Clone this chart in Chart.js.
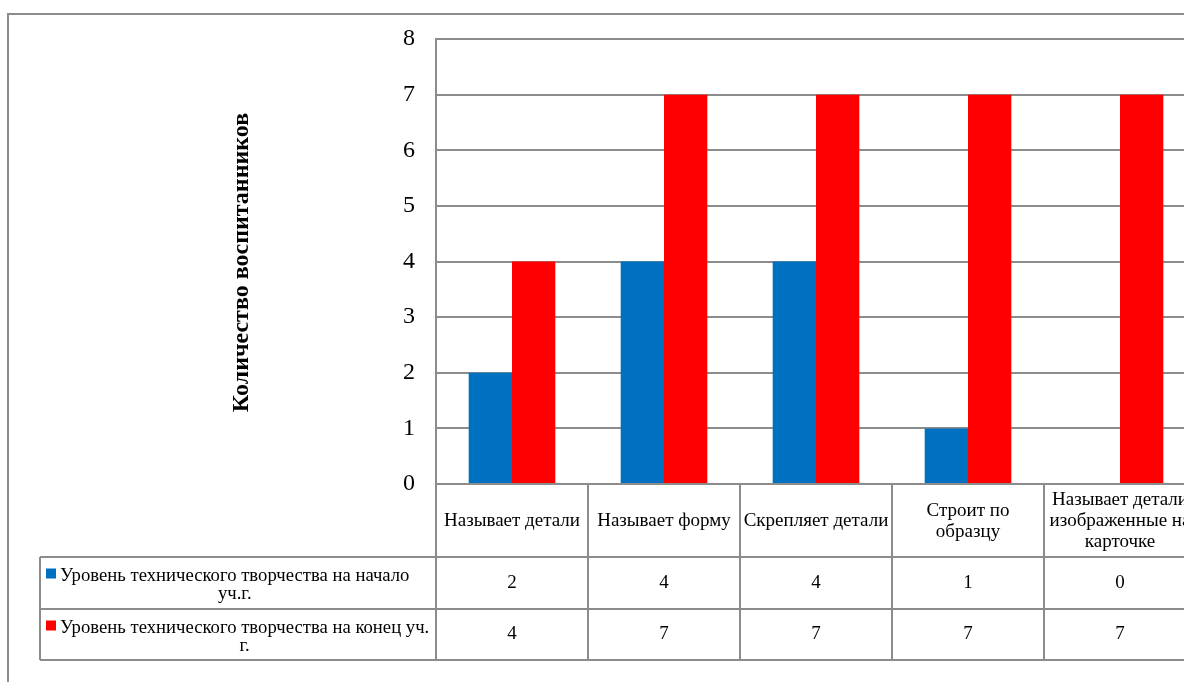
<!DOCTYPE html>
<html><head><meta charset="utf-8">
<script src="https://cdn.jsdelivr.net/npm/chart.js@4"></script>
<style>
html,body{margin:0;padding:0;background:#fff;overflow:hidden;width:1184px;height:682px;}
#wrap{position:relative;width:1210px;height:682px;overflow:hidden;}
#frame{position:absolute;left:7px;top:13px;width:1300px;height:800px;border:2px solid #8c8c8c;box-sizing:border-box;}
canvas{position:absolute;left:0;top:0;}
</style></head><body>
<div id="wrap"><div id="frame"></div><canvas id="c" width="1210" height="682"></canvas></div>
<script>
const categories = [["Называет детали"],["Называет форму"],["Скрепляет детали"],["Строит по","образцу"],["Называет детали","изображенные на","карточке"]];
const seriesStart = [2,4,4,1,0];
const seriesEnd = [4,7,7,7,7];
const seriesNames = ["Уровень технического творчества на начало уч.г.","Уровень технического творчества на конец уч. г."];
const yMin = 0, yMax = 8, yStep = 1;
const yTitle = "Количество воспитанников";
const seriesColors = ['#0070C0','#FF0000'];

const FONT = '"Liberation Serif", "Times New Roman", serif';
const GRID = '#8c8c8c';

function wrapText(ctx, text, maxW){
  const words = text.split(' ');
  const lines = []; let cur = '';
  for(const w of words){
    const t = cur ? cur + ' ' + w : w;
    if(ctx.measureText(t).width > maxW && cur){ lines.push(cur); cur = w; }
    else cur = t;
  }
  if(cur) lines.push(cur);
  return lines;
}

const tablePlugin = {
  id:'table',
  afterDraw(chart){
    const ctx = chart.ctx, xs = chart.scales.x, area = chart.chartArea;
    const n = chart.data.labels.length;
    const catW = (area.right - area.left)/n;
    const top = area.bottom, hdrB = top + 73, r1B = hdrB + 52, r2B = r1B + 51, legL = 40;
    ctx.save();
    ctx.strokeStyle = GRID; ctx.lineWidth = 2;
    ctx.beginPath();
    for(let i=0;i<=n;i++){
      const bx = Math.round(xs.getPixelForValue(0) - catW/2 + i*catW);
      ctx.moveTo(bx, top); ctx.lineTo(bx, r2B);
    }
    [hdrB, r1B, r2B].forEach(yy=>{ ctx.moveTo(legL, yy); ctx.lineTo(area.right, yy); });
    ctx.moveTo(legL, hdrB); ctx.lineTo(legL, r2B);
    ctx.stroke();

    ctx.fillStyle = '#000';
    ctx.font = '19px ' + FONT;
    ctx.textAlign = 'center'; ctx.textBaseline = 'middle';
    // header
    chart.data.labels.forEach((lab, i)=>{
      const cx = xs.getPixelForValue(i);
      const lines = Array.isArray(lab) ? lab : [lab];
      const lh = 21, cy = (top + hdrB)/2 + 1;
      lines.forEach((l, k)=> ctx.fillText(l, cx, cy + (k - (lines.length-1)/2)*lh));
    });
    // rows
    const rows = [[hdrB, r1B],[r1B, r2B]];
    chart.data.datasets.forEach((ds, d)=>{
      const cy = (rows[d][0] + rows[d][1])/2;
      ctx.font = '19px ' + FONT;
      ds.data.forEach((v, i)=> ctx.fillText(String(v), xs.getPixelForValue(i), cy));
      // legend cell
      ctx.font = '18.7px ' + FONT;
      const textL = legL + 20, maxW = area.left - textL - 2;
      const lines = wrapText(ctx, ds.label, maxW);
      const lh = 18;
      const w0 = ctx.measureText(lines[0]).width;
      const midX = textL + w0/2;
      lines.forEach((l, k)=>{
        const ly = rows[d][0] + 19.5 + k*lh;
        if(k === 0){
          ctx.fillStyle = ds.backgroundColor;
          ctx.fillRect(legL + 6, ly - 8, 10, 10);
          ctx.fillStyle = '#000';
          ctx.textAlign = 'left';
          ctx.fillText(l, textL, ly);
          ctx.textAlign = 'center';
        } else {
          ctx.fillText(l, midX, ly);
        }
      });
    });
    // y title
    ctx.translate(242, (area.top + area.bottom)/2 + 1);
    ctx.rotate(-Math.PI/2);
    ctx.font = 'bold 24px ' + FONT;
    ctx.fillText(yTitle, 0, 0);
    ctx.restore();
  }
};

new Chart(document.getElementById('c'), {
  type:'bar',
  data:{
    labels: categories,
    datasets:[
      {label: seriesNames[0], data: seriesStart, backgroundColor: seriesColors[0], borderWidth:0},
      {label: seriesNames[1], data: seriesEnd, backgroundColor: seriesColors[1], borderWidth:0}
    ]
  },
  options:{
    responsive:false, animation:false,
    layout:{padding:{top:39, bottom:198, left:0, right:14}},
    datasets:{bar:{categoryPercentage:0.57, barPercentage:1}},
    plugins:{legend:{display:false}, tooltip:{enabled:false}},
    scales:{
      x:{display:false},
      y:{min:yMin, max:yMax,
         ticks:{stepSize:yStep, color:'#000', font:{family:FONT, size:24}, padding:21},
         grid:{color:GRID, lineWidth:2, drawTicks:false},
         border:{color:GRID, width:2},
         afterFit(s){ s.width = 436; }
      }
    }
  },
  plugins:[tablePlugin]
});
</script>
</body></html>
